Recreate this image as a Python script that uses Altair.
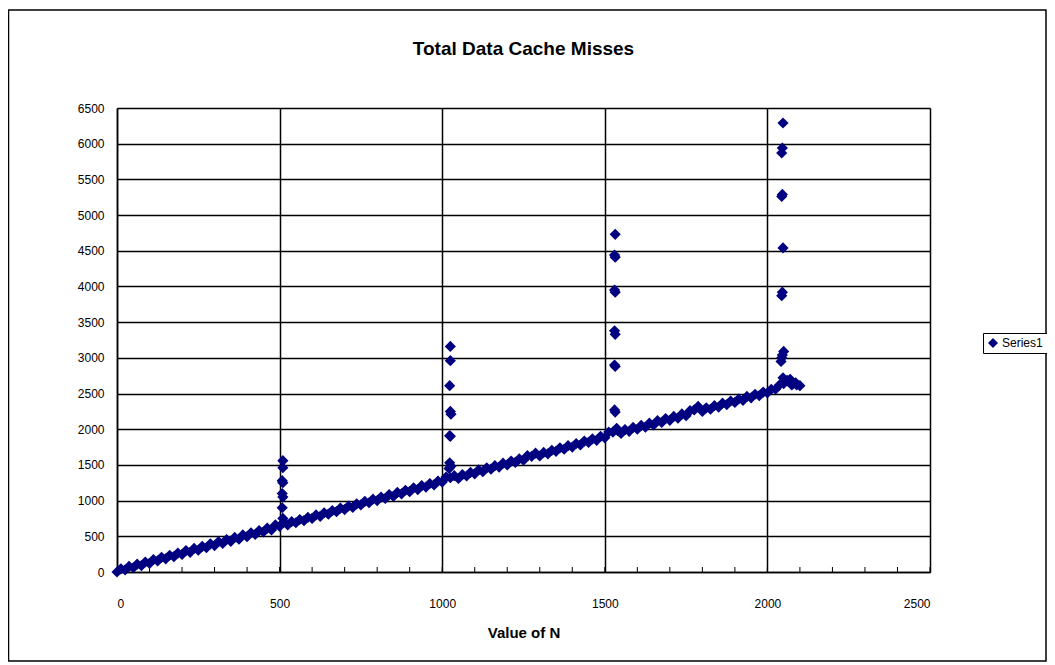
import altair as alt
import pandas as pd

# Main trend (every 25 of N)
base_n = list(range(0, 2101, 25))
base_y = [0, 30, 60, 90, 120, 155, 185, 215, 245, 275, 305, 340, 370, 400, 430,
          460, 495, 525, 560, 590, 640, 660, 690, 720, 750, 780, 810, 845, 875,
          905, 940, 970, 1000, 1030, 1060, 1095, 1125, 1155, 1190, 1220, 1260,
          1320, 1310, 1345, 1375, 1405, 1440, 1470, 1500, 1535, 1565, 1620, 1625,
          1655, 1690, 1720, 1750, 1780, 1815, 1845, 1880, 1960, 1940, 1970, 2000,
          2030, 2060, 2095, 2125, 2155, 2190, 2270, 2250, 2280, 2310, 2345, 2375,
          2405, 2440, 2470, 2510, 2560, 2640, 2620, 2610]

# Points in between (upper side of the band)
mid_n = list(range(12, 2088, 25))
mid_y = [45, 80, 110, 140, 175, 205, 235, 265, 300, 330,
         360, 395, 425, 455, 485, 520, 550, 580, 615, 660,
         690, 705, 735, 765, 800, 830, 860, 895, 925, 955,
         990, 1020, 1050, 1085, 1115, 1145, 1180, 1210, 1240, 1275,
         1330, 1350, 1365, 1395, 1430, 1460, 1490, 1525, 1555, 1585,
         1630, 1665, 1675, 1705, 1740, 1770, 1800, 1835, 1865, 1900,
         1960, 2010, 1995, 2025, 2055, 2085, 2120, 2150, 2180, 2215,
         2260, 2320, 2300, 2330, 2365, 2395, 2425, 2460, 2490, 2520,
         2560, 2620, 2680, 2650]

# Spikes near powers of two
spike_n = [510, 510, 508, 510, 508, 510, 508, 510,
           1025, 1025, 1023, 1025, 1027, 1023, 1025, 1023, 1027, 1021,
           1532, 1530, 1532, 1530, 1532, 1530, 1532, 1530, 1532, 1530, 1532, 1536, 1540,
           2048, 2046, 2044, 2046, 2044, 2048, 2046, 2044, 2050, 2046, 2044, 2042,
           2048, 2060, 2070, 2080, 2090]
spike_y = [1560, 1460, 1280, 1250, 1100, 1050, 900, 750,
           3160, 2960, 2610, 2250, 2210, 1910, 1900, 1530, 1480, 1450,
           4730, 4440, 4410, 3950, 3920, 3380, 3330, 2900, 2880, 2270, 2240, 2010, 1980,
           6290, 5940, 5870, 5290, 5260, 4540, 3920, 3870, 3090, 3040, 3000, 2950,
           2720, 2680, 2700, 2640, 2620]

minor_ticks = list(range(0, 2501, 100))
x_labels = [0, 500, 1000, 1500, 2000, 2500]
y_labels = list(range(0, 6501, 500))

series = ["Series1"]

all_n = base_n + mid_n + spike_n
all_y = base_y + mid_y + spike_y
df = pd.DataFrame({"N": all_n, "misses": all_y, "series": series * len(all_n)})
ticks_df = pd.DataFrame({"N": minor_ticks})

FONT = "Liberation Sans"
NAVY = "#000080"

x_scale = alt.Scale(domain=[0, 2500], nice=False)
y_scale = alt.Scale(domain=[0, 6500], nice=False)

points = alt.Chart(df).mark_point(shape="diamond", filled=True, size=125, opacity=1).encode(
    x=alt.X("N:Q", scale=x_scale,
            axis=alt.Axis(values=x_labels, format="d", title="Value of N",
                          grid=True, gridColor="black", gridWidth=1.5,
                          domainColor="black", domainWidth=1.5,
                          ticks=False, labelPadding=26, titlePadding=16,
                          labelFont=FONT, labelFontSize=12, labelColor="black",
                          titleFont=FONT, titleFontSize=15, titleFontWeight="bold",
                          titleColor="black")),
    y=alt.Y("misses:Q", scale=y_scale,
            axis=alt.Axis(values=y_labels, format="d", title=None,
                          grid=True, gridColor="black", gridWidth=1.5,
                          domainColor="black", domainWidth=1.5,
                          ticks=False, labelPadding=13,
                          labelFont=FONT, labelFontSize=12, labelColor="black")),
    color=alt.Color("series:N", scale=alt.Scale(range=[NAVY]),
                    legend=alt.Legend(title=None, orient="none", legendX=866, legendY=225,
                                      strokeColor="black", fillColor="white", padding=4,
                                      symbolType="diamond", symbolSize=100, labelOffset=3,
                                      labelFont=FONT, labelFontSize=12, labelColor="black")),
)

minor = alt.Chart(ticks_df).mark_rule(color="black", strokeWidth=1).encode(
    x=alt.X("N:Q", scale=x_scale),
    y=alt.value(464), y2=alt.value(459),
)

frame = alt.Chart(pd.DataFrame({"a": [0]})).mark_rect(
    fill=None, stroke="black", strokeWidth=1.5, clip=False
).encode(
    x=alt.value(-108.5), x2=alt.value(929), y=alt.value(-98), y2=alt.value(553)
)

chart = alt.layer(frame, minor, points).properties(
    width=813, height=464,
    padding={"left": 109, "top": 100, "right": 117, "bottom": 90},
    autosize=alt.AutoSizeParams(type="none"),
    title=alt.TitleParams("Total Data Cache Misses", font=FONT, fontSize=19,
                          fontWeight="bold", color="black", anchor="middle", offset=-50),
).configure_view(stroke=None).configure(background="white")

chart.save("out.html", embed_options={"renderer": "svg", "actions": False})
